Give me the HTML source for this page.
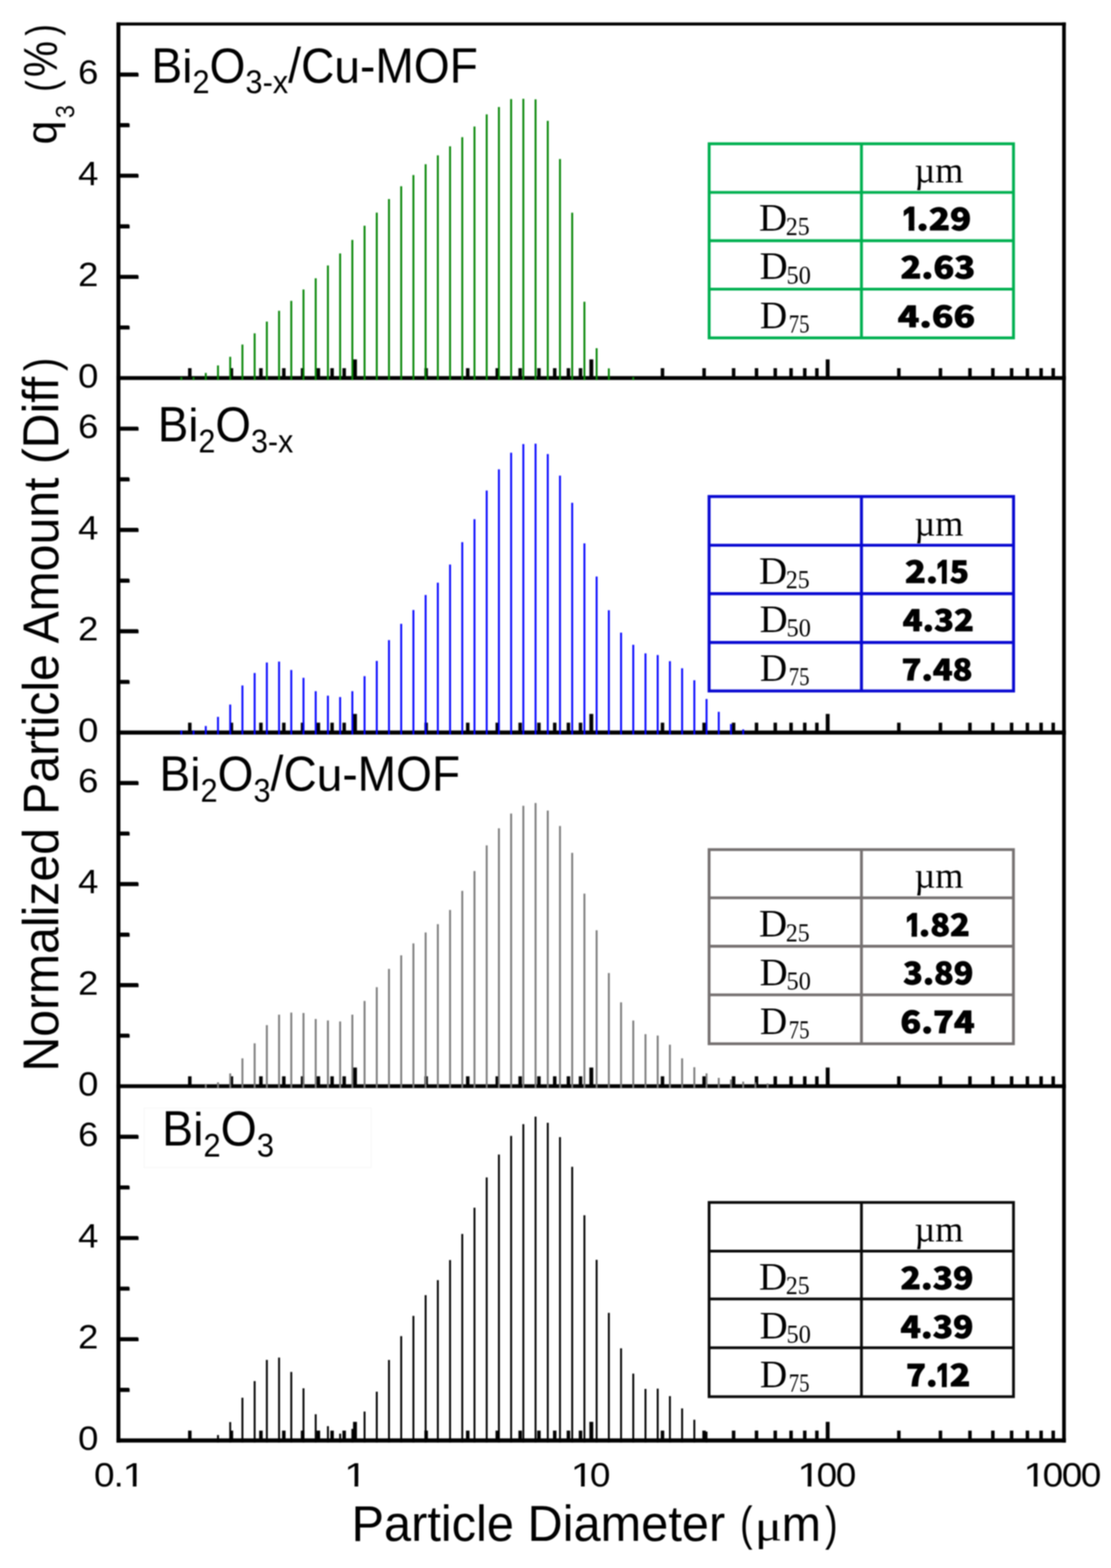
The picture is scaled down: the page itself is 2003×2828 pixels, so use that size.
<!DOCTYPE html>
<html lang="en"><head><meta charset="utf-8"><title>Particle size distribution</title>
<style>
html,body{margin:0;padding:0;background:#fff;}
body{width:2003px;height:2828px;overflow:hidden;}
svg{display:block;filter:blur(0.8px);}
text{font-family:"Liberation Sans",Arial,Helvetica,sans-serif;fill:#000;}
.ser{font-family:"Liberation Serif","Times New Roman",serif;}
.val{font-family:"Noto Sans CJK JP","Liberation Sans",sans-serif;font-weight:900;}
</style></head><body>
<svg width="2003" height="2828" viewBox="0 0 2003 2828">
<rect x="0" y="0" width="2003" height="2828" fill="#ffffff"/>
<defs><clipPath id="c1r" clipPathUnits="userSpaceOnUse"><path d="M-4,-64.00 H64.00 V-5.98 H21.75 V0 H16.09 V-5.98 H-4 Z"/></clipPath><clipPath id="c1b" clipPathUnits="userSpaceOnUse"><path d="M-4,-60.00 H60.00 V-8.82 H23.74 V0 H12.50 V-8.82 H-4 Z"/></clipPath></defs>
<g id="axes" stroke="#000" fill="none" stroke-linecap="butt">
<g fill="#000" stroke="none">
<rect x="209.95" y="40.55" width="7.10" height="2561.20"/>
<rect x="1914.95" y="40.55" width="6.60" height="2561.20"/>
<rect x="209.95" y="40.55" width="1711.60" height="5.50"/>
<rect x="209.95" y="678.30" width="1711.60" height="7.00"/>
<rect x="209.95" y="1317.50" width="1711.60" height="7.40"/>
<rect x="209.95" y="1955.55" width="1711.60" height="6.90"/>
<rect x="209.95" y="2594.25" width="1711.60" height="7.50"/>
</g>
<path d="M213.5 586.9 H232.1 l1.6 1.6 V594.3 H213.5 Z" fill="#000" stroke="none"/>
<path d="M213.5 495.7 H248.2 l1.6 1.6 V503.1 H213.5 Z" fill="#000" stroke="none"/>
<path d="M213.5 404.5 H232.1 l1.6 1.6 V411.9 H213.5 Z" fill="#000" stroke="none"/>
<path d="M213.5 313.2 H248.2 l1.6 1.6 V320.6 H213.5 Z" fill="#000" stroke="none"/>
<path d="M213.5 222.0 H232.1 l1.6 1.6 V229.4 H213.5 Z" fill="#000" stroke="none"/>
<path d="M213.5 130.8 H248.2 l1.6 1.6 V138.2 H213.5 Z" fill="#000" stroke="none"/>
<path d="M213.5 1226.2 H232.1 l1.6 1.6 V1233.6 H213.5 Z" fill="#000" stroke="none"/>
<path d="M213.5 1134.8 H248.2 l1.6 1.6 V1142.2 H213.5 Z" fill="#000" stroke="none"/>
<path d="M213.5 1043.5 H232.1 l1.6 1.6 V1050.9 H213.5 Z" fill="#000" stroke="none"/>
<path d="M213.5 952.1 H248.2 l1.6 1.6 V959.5 H213.5 Z" fill="#000" stroke="none"/>
<path d="M213.5 860.8 H232.1 l1.6 1.6 V868.2 H213.5 Z" fill="#000" stroke="none"/>
<path d="M213.5 769.4 H248.2 l1.6 1.6 V776.8 H213.5 Z" fill="#000" stroke="none"/>
<path d="M213.5 1864.2 H232.1 l1.6 1.6 V1871.6 H213.5 Z" fill="#000" stroke="none"/>
<path d="M213.5 1773.1 H248.2 l1.6 1.6 V1780.5 H213.5 Z" fill="#000" stroke="none"/>
<path d="M213.5 1682.0 H232.1 l1.6 1.6 V1689.4 H213.5 Z" fill="#000" stroke="none"/>
<path d="M213.5 1590.8 H248.2 l1.6 1.6 V1598.2 H213.5 Z" fill="#000" stroke="none"/>
<path d="M213.5 1499.7 H232.1 l1.6 1.6 V1507.1 H213.5 Z" fill="#000" stroke="none"/>
<path d="M213.5 1408.6 H248.2 l1.6 1.6 V1416.0 H213.5 Z" fill="#000" stroke="none"/>
<path d="M213.5 2503.0 H232.1 l1.6 1.6 V2510.4 H213.5 Z" fill="#000" stroke="none"/>
<path d="M213.5 2411.7 H248.2 l1.6 1.6 V2419.1 H213.5 Z" fill="#000" stroke="none"/>
<path d="M213.5 2320.4 H232.1 l1.6 1.6 V2327.8 H213.5 Z" fill="#000" stroke="none"/>
<path d="M213.5 2229.2 H248.2 l1.6 1.6 V2236.6 H213.5 Z" fill="#000" stroke="none"/>
<path d="M213.5 2137.9 H232.1 l1.6 1.6 V2145.3 H213.5 Z" fill="#000" stroke="none"/>
<path d="M213.5 2046.6 H248.2 l1.6 1.6 V2054.0 H213.5 Z" fill="#000" stroke="none"/>
<line x1="342.2" y1="681.8" x2="342.2" y2="664.0" stroke-width="6.3"/>
<line x1="417.2" y1="681.8" x2="417.2" y2="664.0" stroke-width="6.3"/>
<line x1="470.4" y1="681.8" x2="470.4" y2="664.0" stroke-width="6.3"/>
<line x1="511.7" y1="681.8" x2="511.7" y2="664.0" stroke-width="6.3"/>
<line x1="545.5" y1="681.8" x2="545.5" y2="664.0" stroke-width="6.3"/>
<line x1="574.0" y1="681.8" x2="574.0" y2="664.0" stroke-width="6.3"/>
<line x1="598.7" y1="681.8" x2="598.7" y2="664.0" stroke-width="6.3"/>
<line x1="620.5" y1="681.8" x2="620.5" y2="664.0" stroke-width="6.3"/>
<line x1="640.0" y1="681.8" x2="640.0" y2="648.2" stroke-width="7.0"/>
<line x1="768.3" y1="681.8" x2="768.3" y2="664.0" stroke-width="6.3"/>
<line x1="843.3" y1="681.8" x2="843.3" y2="664.0" stroke-width="6.3"/>
<line x1="896.5" y1="681.8" x2="896.5" y2="664.0" stroke-width="6.3"/>
<line x1="937.8" y1="681.8" x2="937.8" y2="664.0" stroke-width="6.3"/>
<line x1="971.6" y1="681.8" x2="971.6" y2="664.0" stroke-width="6.3"/>
<line x1="1000.1" y1="681.8" x2="1000.1" y2="664.0" stroke-width="6.3"/>
<line x1="1024.8" y1="681.8" x2="1024.8" y2="664.0" stroke-width="6.3"/>
<line x1="1046.6" y1="681.8" x2="1046.6" y2="664.0" stroke-width="6.3"/>
<line x1="1066.1" y1="681.8" x2="1066.1" y2="648.2" stroke-width="7.0"/>
<line x1="1194.4" y1="681.8" x2="1194.4" y2="664.0" stroke-width="6.3"/>
<line x1="1269.4" y1="681.8" x2="1269.4" y2="664.0" stroke-width="6.3"/>
<line x1="1322.6" y1="681.8" x2="1322.6" y2="664.0" stroke-width="6.3"/>
<line x1="1363.9" y1="681.8" x2="1363.9" y2="664.0" stroke-width="6.3"/>
<line x1="1397.7" y1="681.8" x2="1397.7" y2="664.0" stroke-width="6.3"/>
<line x1="1426.2" y1="681.8" x2="1426.2" y2="664.0" stroke-width="6.3"/>
<line x1="1450.9" y1="681.8" x2="1450.9" y2="664.0" stroke-width="6.3"/>
<line x1="1472.7" y1="681.8" x2="1472.7" y2="664.0" stroke-width="6.3"/>
<line x1="1492.2" y1="681.8" x2="1492.2" y2="648.2" stroke-width="7.0"/>
<line x1="1620.5" y1="681.8" x2="1620.5" y2="664.0" stroke-width="6.3"/>
<line x1="1695.5" y1="681.8" x2="1695.5" y2="664.0" stroke-width="6.3"/>
<line x1="1748.7" y1="681.8" x2="1748.7" y2="664.0" stroke-width="6.3"/>
<line x1="1790.0" y1="681.8" x2="1790.0" y2="664.0" stroke-width="6.3"/>
<line x1="1823.8" y1="681.8" x2="1823.8" y2="664.0" stroke-width="6.3"/>
<line x1="1852.3" y1="681.8" x2="1852.3" y2="664.0" stroke-width="6.3"/>
<line x1="1877.0" y1="681.8" x2="1877.0" y2="664.0" stroke-width="6.3"/>
<line x1="1898.8" y1="681.8" x2="1898.8" y2="664.0" stroke-width="6.3"/>
<line x1="342.2" y1="1321.2" x2="342.2" y2="1303.4" stroke-width="6.3"/>
<line x1="417.2" y1="1321.2" x2="417.2" y2="1303.4" stroke-width="6.3"/>
<line x1="470.4" y1="1321.2" x2="470.4" y2="1303.4" stroke-width="6.3"/>
<line x1="511.7" y1="1321.2" x2="511.7" y2="1303.4" stroke-width="6.3"/>
<line x1="545.5" y1="1321.2" x2="545.5" y2="1303.4" stroke-width="6.3"/>
<line x1="574.0" y1="1321.2" x2="574.0" y2="1303.4" stroke-width="6.3"/>
<line x1="598.7" y1="1321.2" x2="598.7" y2="1303.4" stroke-width="6.3"/>
<line x1="620.5" y1="1321.2" x2="620.5" y2="1303.4" stroke-width="6.3"/>
<line x1="640.0" y1="1321.2" x2="640.0" y2="1287.6" stroke-width="7.0"/>
<line x1="768.3" y1="1321.2" x2="768.3" y2="1303.4" stroke-width="6.3"/>
<line x1="843.3" y1="1321.2" x2="843.3" y2="1303.4" stroke-width="6.3"/>
<line x1="896.5" y1="1321.2" x2="896.5" y2="1303.4" stroke-width="6.3"/>
<line x1="937.8" y1="1321.2" x2="937.8" y2="1303.4" stroke-width="6.3"/>
<line x1="971.6" y1="1321.2" x2="971.6" y2="1303.4" stroke-width="6.3"/>
<line x1="1000.1" y1="1321.2" x2="1000.1" y2="1303.4" stroke-width="6.3"/>
<line x1="1024.8" y1="1321.2" x2="1024.8" y2="1303.4" stroke-width="6.3"/>
<line x1="1046.6" y1="1321.2" x2="1046.6" y2="1303.4" stroke-width="6.3"/>
<line x1="1066.1" y1="1321.2" x2="1066.1" y2="1287.6" stroke-width="7.0"/>
<line x1="1194.4" y1="1321.2" x2="1194.4" y2="1303.4" stroke-width="6.3"/>
<line x1="1269.4" y1="1321.2" x2="1269.4" y2="1303.4" stroke-width="6.3"/>
<line x1="1322.6" y1="1321.2" x2="1322.6" y2="1303.4" stroke-width="6.3"/>
<line x1="1363.9" y1="1321.2" x2="1363.9" y2="1303.4" stroke-width="6.3"/>
<line x1="1397.7" y1="1321.2" x2="1397.7" y2="1303.4" stroke-width="6.3"/>
<line x1="1426.2" y1="1321.2" x2="1426.2" y2="1303.4" stroke-width="6.3"/>
<line x1="1450.9" y1="1321.2" x2="1450.9" y2="1303.4" stroke-width="6.3"/>
<line x1="1472.7" y1="1321.2" x2="1472.7" y2="1303.4" stroke-width="6.3"/>
<line x1="1492.2" y1="1321.2" x2="1492.2" y2="1287.6" stroke-width="7.0"/>
<line x1="1620.5" y1="1321.2" x2="1620.5" y2="1303.4" stroke-width="6.3"/>
<line x1="1695.5" y1="1321.2" x2="1695.5" y2="1303.4" stroke-width="6.3"/>
<line x1="1748.7" y1="1321.2" x2="1748.7" y2="1303.4" stroke-width="6.3"/>
<line x1="1790.0" y1="1321.2" x2="1790.0" y2="1303.4" stroke-width="6.3"/>
<line x1="1823.8" y1="1321.2" x2="1823.8" y2="1303.4" stroke-width="6.3"/>
<line x1="1852.3" y1="1321.2" x2="1852.3" y2="1303.4" stroke-width="6.3"/>
<line x1="1877.0" y1="1321.2" x2="1877.0" y2="1303.4" stroke-width="6.3"/>
<line x1="1898.8" y1="1321.2" x2="1898.8" y2="1303.4" stroke-width="6.3"/>
<line x1="342.2" y1="1959.0" x2="342.2" y2="1941.2" stroke-width="6.3"/>
<line x1="417.2" y1="1959.0" x2="417.2" y2="1941.2" stroke-width="6.3"/>
<line x1="470.4" y1="1959.0" x2="470.4" y2="1941.2" stroke-width="6.3"/>
<line x1="511.7" y1="1959.0" x2="511.7" y2="1941.2" stroke-width="6.3"/>
<line x1="545.5" y1="1959.0" x2="545.5" y2="1941.2" stroke-width="6.3"/>
<line x1="574.0" y1="1959.0" x2="574.0" y2="1941.2" stroke-width="6.3"/>
<line x1="598.7" y1="1959.0" x2="598.7" y2="1941.2" stroke-width="6.3"/>
<line x1="620.5" y1="1959.0" x2="620.5" y2="1941.2" stroke-width="6.3"/>
<line x1="640.0" y1="1959.0" x2="640.0" y2="1925.4" stroke-width="7.0"/>
<line x1="768.3" y1="1959.0" x2="768.3" y2="1941.2" stroke-width="6.3"/>
<line x1="843.3" y1="1959.0" x2="843.3" y2="1941.2" stroke-width="6.3"/>
<line x1="896.5" y1="1959.0" x2="896.5" y2="1941.2" stroke-width="6.3"/>
<line x1="937.8" y1="1959.0" x2="937.8" y2="1941.2" stroke-width="6.3"/>
<line x1="971.6" y1="1959.0" x2="971.6" y2="1941.2" stroke-width="6.3"/>
<line x1="1000.1" y1="1959.0" x2="1000.1" y2="1941.2" stroke-width="6.3"/>
<line x1="1024.8" y1="1959.0" x2="1024.8" y2="1941.2" stroke-width="6.3"/>
<line x1="1046.6" y1="1959.0" x2="1046.6" y2="1941.2" stroke-width="6.3"/>
<line x1="1066.1" y1="1959.0" x2="1066.1" y2="1925.4" stroke-width="7.0"/>
<line x1="1194.4" y1="1959.0" x2="1194.4" y2="1941.2" stroke-width="6.3"/>
<line x1="1269.4" y1="1959.0" x2="1269.4" y2="1941.2" stroke-width="6.3"/>
<line x1="1322.6" y1="1959.0" x2="1322.6" y2="1941.2" stroke-width="6.3"/>
<line x1="1363.9" y1="1959.0" x2="1363.9" y2="1941.2" stroke-width="6.3"/>
<line x1="1397.7" y1="1959.0" x2="1397.7" y2="1941.2" stroke-width="6.3"/>
<line x1="1426.2" y1="1959.0" x2="1426.2" y2="1941.2" stroke-width="6.3"/>
<line x1="1450.9" y1="1959.0" x2="1450.9" y2="1941.2" stroke-width="6.3"/>
<line x1="1472.7" y1="1959.0" x2="1472.7" y2="1941.2" stroke-width="6.3"/>
<line x1="1492.2" y1="1959.0" x2="1492.2" y2="1925.4" stroke-width="7.0"/>
<line x1="1620.5" y1="1959.0" x2="1620.5" y2="1941.2" stroke-width="6.3"/>
<line x1="1695.5" y1="1959.0" x2="1695.5" y2="1941.2" stroke-width="6.3"/>
<line x1="1748.7" y1="1959.0" x2="1748.7" y2="1941.2" stroke-width="6.3"/>
<line x1="1790.0" y1="1959.0" x2="1790.0" y2="1941.2" stroke-width="6.3"/>
<line x1="1823.8" y1="1959.0" x2="1823.8" y2="1941.2" stroke-width="6.3"/>
<line x1="1852.3" y1="1959.0" x2="1852.3" y2="1941.2" stroke-width="6.3"/>
<line x1="1877.0" y1="1959.0" x2="1877.0" y2="1941.2" stroke-width="6.3"/>
<line x1="1898.8" y1="1959.0" x2="1898.8" y2="1941.2" stroke-width="6.3"/>
<line x1="342.2" y1="2598.0" x2="342.2" y2="2580.2" stroke-width="6.3"/>
<line x1="417.2" y1="2598.0" x2="417.2" y2="2580.2" stroke-width="6.3"/>
<line x1="470.4" y1="2598.0" x2="470.4" y2="2580.2" stroke-width="6.3"/>
<line x1="511.7" y1="2598.0" x2="511.7" y2="2580.2" stroke-width="6.3"/>
<line x1="545.5" y1="2598.0" x2="545.5" y2="2580.2" stroke-width="6.3"/>
<line x1="574.0" y1="2598.0" x2="574.0" y2="2580.2" stroke-width="6.3"/>
<line x1="598.7" y1="2598.0" x2="598.7" y2="2580.2" stroke-width="6.3"/>
<line x1="620.5" y1="2598.0" x2="620.5" y2="2580.2" stroke-width="6.3"/>
<line x1="640.0" y1="2598.0" x2="640.0" y2="2564.4" stroke-width="7.0"/>
<line x1="768.3" y1="2598.0" x2="768.3" y2="2580.2" stroke-width="6.3"/>
<line x1="843.3" y1="2598.0" x2="843.3" y2="2580.2" stroke-width="6.3"/>
<line x1="896.5" y1="2598.0" x2="896.5" y2="2580.2" stroke-width="6.3"/>
<line x1="937.8" y1="2598.0" x2="937.8" y2="2580.2" stroke-width="6.3"/>
<line x1="971.6" y1="2598.0" x2="971.6" y2="2580.2" stroke-width="6.3"/>
<line x1="1000.1" y1="2598.0" x2="1000.1" y2="2580.2" stroke-width="6.3"/>
<line x1="1024.8" y1="2598.0" x2="1024.8" y2="2580.2" stroke-width="6.3"/>
<line x1="1046.6" y1="2598.0" x2="1046.6" y2="2580.2" stroke-width="6.3"/>
<line x1="1066.1" y1="2598.0" x2="1066.1" y2="2564.4" stroke-width="7.0"/>
<line x1="1194.4" y1="2598.0" x2="1194.4" y2="2580.2" stroke-width="6.3"/>
<line x1="1269.4" y1="2598.0" x2="1269.4" y2="2580.2" stroke-width="6.3"/>
<line x1="1322.6" y1="2598.0" x2="1322.6" y2="2580.2" stroke-width="6.3"/>
<line x1="1363.9" y1="2598.0" x2="1363.9" y2="2580.2" stroke-width="6.3"/>
<line x1="1397.7" y1="2598.0" x2="1397.7" y2="2580.2" stroke-width="6.3"/>
<line x1="1426.2" y1="2598.0" x2="1426.2" y2="2580.2" stroke-width="6.3"/>
<line x1="1450.9" y1="2598.0" x2="1450.9" y2="2580.2" stroke-width="6.3"/>
<line x1="1472.7" y1="2598.0" x2="1472.7" y2="2580.2" stroke-width="6.3"/>
<line x1="1492.2" y1="2598.0" x2="1492.2" y2="2564.4" stroke-width="7.0"/>
<line x1="1620.5" y1="2598.0" x2="1620.5" y2="2580.2" stroke-width="6.3"/>
<line x1="1695.5" y1="2598.0" x2="1695.5" y2="2580.2" stroke-width="6.3"/>
<line x1="1748.7" y1="2598.0" x2="1748.7" y2="2580.2" stroke-width="6.3"/>
<line x1="1790.0" y1="2598.0" x2="1790.0" y2="2580.2" stroke-width="6.3"/>
<line x1="1823.8" y1="2598.0" x2="1823.8" y2="2580.2" stroke-width="6.3"/>
<line x1="1852.3" y1="2598.0" x2="1852.3" y2="2580.2" stroke-width="6.3"/>
<line x1="1877.0" y1="2598.0" x2="1877.0" y2="2580.2" stroke-width="6.3"/>
<line x1="1898.8" y1="2598.0" x2="1898.8" y2="2580.2" stroke-width="6.3"/>
</g>
<g id="bars1" fill="#048504">
<rect x="325.26" y="680.0" width="3.4" height="5.3"/>
<rect x="347.28" y="680.0" width="3.4" height="5.3"/>
<rect x="369.30" y="672.6" width="3.4" height="12.7"/>
<rect x="391.32" y="659.1" width="3.4" height="26.2"/>
<rect x="413.34" y="643.5" width="3.4" height="41.8"/>
<rect x="435.36" y="621.4" width="3.4" height="63.9"/>
<rect x="457.38" y="601.2" width="3.4" height="84.1"/>
<rect x="479.40" y="580.0" width="3.4" height="105.3"/>
<rect x="501.42" y="560.5" width="3.4" height="124.8"/>
<rect x="523.44" y="542.6" width="3.4" height="142.7"/>
<rect x="545.46" y="522.1" width="3.4" height="163.2"/>
<rect x="567.48" y="501.9" width="3.4" height="183.4"/>
<rect x="589.50" y="478.8" width="3.4" height="206.5"/>
<rect x="611.52" y="457.1" width="3.4" height="228.2"/>
<rect x="633.54" y="432.7" width="3.4" height="252.6"/>
<rect x="655.56" y="407.1" width="3.4" height="278.2"/>
<rect x="677.58" y="383.5" width="3.4" height="301.8"/>
<rect x="699.60" y="359.0" width="3.4" height="326.3"/>
<rect x="721.62" y="335.9" width="3.4" height="349.4"/>
<rect x="743.64" y="315.7" width="3.4" height="369.6"/>
<rect x="765.66" y="296.2" width="3.4" height="389.1"/>
<rect x="787.68" y="280.2" width="3.4" height="405.1"/>
<rect x="809.70" y="263.9" width="3.4" height="421.4"/>
<rect x="831.72" y="247.4" width="3.4" height="437.9"/>
<rect x="853.74" y="228.2" width="3.4" height="457.1"/>
<rect x="875.76" y="206.3" width="3.4" height="479.0"/>
<rect x="897.78" y="193.0" width="3.4" height="492.3"/>
<rect x="919.80" y="178.7" width="3.4" height="506.6"/>
<rect x="941.82" y="178.2" width="3.4" height="507.1"/>
<rect x="963.84" y="179.2" width="3.4" height="506.1"/>
<rect x="985.86" y="217.9" width="3.4" height="467.4"/>
<rect x="1007.88" y="286.8" width="3.4" height="398.5"/>
<rect x="1029.90" y="383.6" width="3.4" height="301.7"/>
<rect x="1051.92" y="544.2" width="3.4" height="141.1"/>
<rect x="1073.94" y="628.0" width="3.4" height="57.3"/>
<rect x="1095.96" y="664.4" width="3.4" height="20.9"/>
<rect x="1140.00" y="680.0" width="3.4" height="5.3"/>
</g>
<g id="bars2" fill="#0404ff">
<rect x="325.26" y="1317.5" width="3.4" height="7.2"/>
<rect x="347.28" y="1317.5" width="3.4" height="7.2"/>
<rect x="369.30" y="1309.4" width="3.4" height="15.3"/>
<rect x="391.32" y="1292.9" width="3.4" height="31.8"/>
<rect x="413.34" y="1270.7" width="3.4" height="54.0"/>
<rect x="435.36" y="1236.3" width="3.4" height="88.4"/>
<rect x="457.38" y="1213.8" width="3.4" height="110.9"/>
<rect x="479.40" y="1194.9" width="3.4" height="129.8"/>
<rect x="501.42" y="1193.2" width="3.4" height="131.5"/>
<rect x="523.44" y="1208.4" width="3.4" height="116.3"/>
<rect x="545.46" y="1222.5" width="3.4" height="102.2"/>
<rect x="567.48" y="1246.6" width="3.4" height="78.1"/>
<rect x="589.50" y="1254.7" width="3.4" height="70.0"/>
<rect x="611.52" y="1257.2" width="3.4" height="67.5"/>
<rect x="633.54" y="1246.6" width="3.4" height="78.1"/>
<rect x="655.56" y="1219.5" width="3.4" height="105.2"/>
<rect x="677.58" y="1192.0" width="3.4" height="132.7"/>
<rect x="699.60" y="1154.5" width="3.4" height="170.2"/>
<rect x="721.62" y="1125.1" width="3.4" height="199.6"/>
<rect x="743.64" y="1100.2" width="3.4" height="224.5"/>
<rect x="765.66" y="1073.1" width="3.4" height="251.6"/>
<rect x="787.68" y="1050.9" width="3.4" height="273.8"/>
<rect x="809.70" y="1018.2" width="3.4" height="306.5"/>
<rect x="831.72" y="977.8" width="3.4" height="346.9"/>
<rect x="853.74" y="936.4" width="3.4" height="388.3"/>
<rect x="875.76" y="884.7" width="3.4" height="440.0"/>
<rect x="897.78" y="846.5" width="3.4" height="478.2"/>
<rect x="919.80" y="816.5" width="3.4" height="508.2"/>
<rect x="941.82" y="800.9" width="3.4" height="523.8"/>
<rect x="963.84" y="800.2" width="3.4" height="524.5"/>
<rect x="985.86" y="818.9" width="3.4" height="505.8"/>
<rect x="1007.88" y="857.8" width="3.4" height="466.9"/>
<rect x="1029.90" y="906.8" width="3.4" height="417.9"/>
<rect x="1051.92" y="980.0" width="3.4" height="344.7"/>
<rect x="1073.94" y="1039.8" width="3.4" height="284.9"/>
<rect x="1095.96" y="1100.6" width="3.4" height="224.1"/>
<rect x="1117.98" y="1141.0" width="3.4" height="183.7"/>
<rect x="1140.00" y="1162.9" width="3.4" height="161.8"/>
<rect x="1162.02" y="1178.4" width="3.4" height="146.3"/>
<rect x="1184.04" y="1181.4" width="3.4" height="143.3"/>
<rect x="1206.06" y="1192.5" width="3.4" height="132.2"/>
<rect x="1228.08" y="1205.3" width="3.4" height="119.4"/>
<rect x="1250.10" y="1226.9" width="3.4" height="97.8"/>
<rect x="1272.12" y="1260.7" width="3.4" height="64.0"/>
<rect x="1294.14" y="1283.8" width="3.4" height="40.9"/>
<rect x="1316.16" y="1305.8" width="3.4" height="18.9"/>
<rect x="1338.18" y="1315.6" width="3.4" height="9.1"/>
</g>
<g id="bars3" fill="#7b7b7b">
<rect x="369.30" y="1955.6" width="3.4" height="6.9"/>
<rect x="391.32" y="1952.0" width="3.4" height="10.5"/>
<rect x="413.34" y="1936.0" width="3.4" height="26.5"/>
<rect x="435.36" y="1908.8" width="3.4" height="53.7"/>
<rect x="457.38" y="1881.7" width="3.4" height="80.8"/>
<rect x="479.40" y="1848.9" width="3.4" height="113.6"/>
<rect x="501.42" y="1830.0" width="3.4" height="132.5"/>
<rect x="523.44" y="1826.3" width="3.4" height="136.2"/>
<rect x="545.46" y="1827.0" width="3.4" height="135.5"/>
<rect x="567.48" y="1837.8" width="3.4" height="124.7"/>
<rect x="589.50" y="1840.5" width="3.4" height="122.0"/>
<rect x="611.52" y="1842.3" width="3.4" height="120.2"/>
<rect x="633.54" y="1830.0" width="3.4" height="132.5"/>
<rect x="655.56" y="1805.3" width="3.4" height="157.2"/>
<rect x="677.58" y="1780.5" width="3.4" height="182.0"/>
<rect x="699.60" y="1747.5" width="3.4" height="215.0"/>
<rect x="721.62" y="1723.0" width="3.4" height="239.5"/>
<rect x="743.64" y="1701.5" width="3.4" height="261.0"/>
<rect x="765.66" y="1681.8" width="3.4" height="280.7"/>
<rect x="787.68" y="1666.8" width="3.4" height="295.7"/>
<rect x="809.70" y="1641.2" width="3.4" height="321.3"/>
<rect x="831.72" y="1606.7" width="3.4" height="355.8"/>
<rect x="853.74" y="1571.0" width="3.4" height="391.5"/>
<rect x="875.76" y="1524.7" width="3.4" height="437.8"/>
<rect x="897.78" y="1493.9" width="3.4" height="468.6"/>
<rect x="919.80" y="1467.3" width="3.4" height="495.2"/>
<rect x="941.82" y="1453.3" width="3.4" height="509.2"/>
<rect x="963.84" y="1448.3" width="3.4" height="514.2"/>
<rect x="985.86" y="1461.9" width="3.4" height="500.6"/>
<rect x="1007.88" y="1489.7" width="3.4" height="472.8"/>
<rect x="1029.90" y="1538.2" width="3.4" height="424.3"/>
<rect x="1051.92" y="1611.7" width="3.4" height="350.8"/>
<rect x="1073.94" y="1677.8" width="3.4" height="284.7"/>
<rect x="1095.96" y="1754.9" width="3.4" height="207.6"/>
<rect x="1117.98" y="1807.8" width="3.4" height="154.7"/>
<rect x="1140.00" y="1840.6" width="3.4" height="121.9"/>
<rect x="1162.02" y="1865.2" width="3.4" height="97.3"/>
<rect x="1184.04" y="1867.7" width="3.4" height="94.8"/>
<rect x="1206.06" y="1884.2" width="3.4" height="78.3"/>
<rect x="1228.08" y="1908.8" width="3.4" height="53.7"/>
<rect x="1250.10" y="1924.8" width="3.4" height="37.7"/>
<rect x="1272.12" y="1935.9" width="3.4" height="26.6"/>
<rect x="1294.14" y="1944.0" width="3.4" height="18.5"/>
<rect x="1316.16" y="1947.0" width="3.4" height="15.5"/>
<rect x="1338.18" y="1950.7" width="3.4" height="11.8"/>
<rect x="1360.20" y="1952.0" width="3.4" height="10.5"/>
<rect x="1382.22" y="1954.0" width="3.4" height="8.5"/>
</g>
<g id="bars4" fill="#000000">
<rect x="391.32" y="2588.2" width="3.4" height="13.3"/>
<rect x="413.34" y="2564.8" width="3.4" height="36.7"/>
<rect x="435.36" y="2520.9" width="3.4" height="80.6"/>
<rect x="457.38" y="2490.9" width="3.4" height="110.6"/>
<rect x="479.40" y="2452.7" width="3.4" height="148.8"/>
<rect x="501.42" y="2448.5" width="3.4" height="153.0"/>
<rect x="523.44" y="2474.4" width="3.4" height="127.1"/>
<rect x="545.46" y="2503.9" width="3.4" height="97.6"/>
<rect x="567.48" y="2550.7" width="3.4" height="50.8"/>
<rect x="589.50" y="2572.2" width="3.4" height="29.3"/>
<rect x="611.52" y="2585.7" width="3.4" height="15.8"/>
<rect x="633.54" y="2577.1" width="3.4" height="24.4"/>
<rect x="655.56" y="2545.8" width="3.4" height="55.7"/>
<rect x="677.58" y="2510.0" width="3.4" height="91.5"/>
<rect x="699.60" y="2452.8" width="3.4" height="148.7"/>
<rect x="721.62" y="2409.8" width="3.4" height="191.7"/>
<rect x="743.64" y="2373.3" width="3.4" height="228.2"/>
<rect x="765.66" y="2335.9" width="3.4" height="265.6"/>
<rect x="787.68" y="2308.8" width="3.4" height="292.7"/>
<rect x="809.70" y="2272.6" width="3.4" height="328.9"/>
<rect x="831.72" y="2225.5" width="3.4" height="376.0"/>
<rect x="853.74" y="2178.2" width="3.4" height="423.3"/>
<rect x="875.76" y="2123.6" width="3.4" height="477.9"/>
<rect x="897.78" y="2082.3" width="3.4" height="519.2"/>
<rect x="919.80" y="2048.7" width="3.4" height="552.8"/>
<rect x="941.82" y="2027.5" width="3.4" height="574.0"/>
<rect x="963.84" y="2013.9" width="3.4" height="587.6"/>
<rect x="985.86" y="2025.0" width="3.4" height="576.5"/>
<rect x="1007.88" y="2050.9" width="3.4" height="550.6"/>
<rect x="1029.90" y="2104.4" width="3.4" height="497.1"/>
<rect x="1051.92" y="2191.8" width="3.4" height="409.7"/>
<rect x="1073.94" y="2272.2" width="3.4" height="329.3"/>
<rect x="1095.96" y="2367.8" width="3.4" height="233.7"/>
<rect x="1117.98" y="2431.8" width="3.4" height="169.7"/>
<rect x="1140.00" y="2477.4" width="3.4" height="124.1"/>
<rect x="1162.02" y="2505.0" width="3.4" height="96.5"/>
<rect x="1184.04" y="2504.5" width="3.4" height="97.0"/>
<rect x="1206.06" y="2518.0" width="3.4" height="83.5"/>
<rect x="1228.08" y="2540.2" width="3.4" height="61.3"/>
<rect x="1250.10" y="2560.6" width="3.4" height="40.9"/>
<rect x="1272.12" y="2582.0" width="3.4" height="19.5"/>
</g>
<g id="table1">
<g stroke="#00b050" stroke-width="5.2" fill="none">
<rect x="1278.5" y="259.3" width="548.7" height="350.1" fill="#fff"/>
<line x1="1553.1" y1="259.3" x2="1553.1" y2="609.4"/>
<line x1="1278.5" y1="347.0" x2="1827.2" y2="347.0"/>
<line x1="1278.5" y1="434.2" x2="1827.2" y2="434.2"/>
<line x1="1278.5" y1="521.5" x2="1827.2" y2="521.5"/>
</g>
<text class="ser" transform="translate(1648.73 329.22) scale(0.9847 0.9844)" font-size="66">µm</text>
<text class="ser" transform="translate(1368.28 416.10) scale(1.0087 1.0043)" font-size="70">D</text>
<text class="ser" transform="translate(1416.63 424.30) scale(0.9349 1.0194)" font-size="46">25</text>
<g transform="translate(1626.95 416.30) scale(0.9037 1.0239)"><text clip-path="url(#c1b)" font-size="60" font-weight="bold" stroke="#000" stroke-width="3" stroke-linejoin="miter">1</text></g>
<text class="val" transform="translate(1652.34 414.73) scale(1.0494 0.9241)" font-size="60" stroke="#000" stroke-width="1.4" stroke-linejoin="round">.29</text>
<text class="ser" transform="translate(1369.50 503.40) scale(1.0022 1.0043)" font-size="70">D</text>
<text class="ser" transform="translate(1417.99 511.60) scale(0.9535 1.0194)" font-size="46">50</text>
<text class="val" transform="translate(1623.39 502.05) scale(1.0324 0.9135)" font-size="60" stroke="#000" stroke-width="1.4" stroke-linejoin="round">2.63</text>
<text class="ser" transform="translate(1370.05 591.50) scale(0.9739 1.0043)" font-size="70">D</text>
<text class="ser" transform="translate(1422.06 599.70) scale(0.8143 1.0194)" font-size="46">75</text>
<text class="val" transform="translate(1618.58 590.18) scale(1.0676 0.8924)" font-size="60" stroke="#000" stroke-width="1.4" stroke-linejoin="round">4.66</text>
</g>
<g id="table2">
<g stroke="#0a0ad2" stroke-width="5.4" fill="none">
<rect x="1278.4" y="895.5" width="548.9" height="350.7" fill="#fff"/>
<line x1="1553.1" y1="895.5" x2="1553.1" y2="1246.2"/>
<line x1="1278.4" y1="983.4" x2="1827.3" y2="983.4"/>
<line x1="1278.4" y1="1070.7" x2="1827.3" y2="1070.7"/>
<line x1="1278.4" y1="1158.7" x2="1827.3" y2="1158.7"/>
</g>
<text class="ser" transform="translate(1648.73 965.62) scale(0.9847 0.9844)" font-size="66">µm</text>
<text class="ser" transform="translate(1368.28 1052.50) scale(1.0087 1.0043)" font-size="70">D</text>
<text class="ser" transform="translate(1416.63 1060.70) scale(0.9349 1.0194)" font-size="46">25</text>
<text class="val" transform="translate(1631.39 1051.16) scale(1.0363 0.9072)" font-size="60" stroke="#000" stroke-width="1.4" stroke-linejoin="round">2.</text>
<g transform="translate(1688.16 1052.70) scale(0.7854 1.0052)"><text clip-path="url(#c1b)" font-size="60" font-weight="bold" stroke="#000" stroke-width="3" stroke-linejoin="miter">1</text></g>
<text class="val" transform="translate(1712.32 1051.16) scale(0.9477 0.9072)" font-size="60" stroke="#000" stroke-width="1.4" stroke-linejoin="round">5</text>
<text class="ser" transform="translate(1369.50 1139.80) scale(1.0022 1.0043)" font-size="70">D</text>
<text class="ser" transform="translate(1417.99 1148.00) scale(0.9535 1.0194)" font-size="46">50</text>
<text class="val" transform="translate(1627.41 1138.46) scale(0.9826 0.9072)" font-size="60" stroke="#000" stroke-width="1.4" stroke-linejoin="round">4.32</text>
<text class="ser" transform="translate(1370.05 1227.90) scale(0.9739 1.0043)" font-size="70">D</text>
<text class="ser" transform="translate(1422.06 1236.10) scale(0.8143 1.0194)" font-size="46">75</text>
<text class="val" transform="translate(1625.45 1226.58) scale(0.9791 0.8924)" font-size="60" stroke="#000" stroke-width="1.4" stroke-linejoin="round">7.48</text>
</g>
<g id="table3">
<g stroke="#767171" stroke-width="5.1" fill="none">
<rect x="1278.4" y="1532.3" width="548.7" height="350.2" fill="#fff"/>
<line x1="1553.1" y1="1532.3" x2="1553.1" y2="1882.5"/>
<line x1="1278.4" y1="1619.2" x2="1827.1" y2="1619.2"/>
<line x1="1278.4" y1="1706.6" x2="1827.1" y2="1706.6"/>
<line x1="1278.4" y1="1794.2" x2="1827.1" y2="1794.2"/>
</g>
<text class="ser" transform="translate(1648.73 1601.42) scale(0.9847 0.9844)" font-size="66">µm</text>
<text class="ser" transform="translate(1368.28 1689.30) scale(1.0087 1.0043)" font-size="70">D</text>
<text class="ser" transform="translate(1416.63 1697.50) scale(0.9349 1.0194)" font-size="46">25</text>
<g transform="translate(1632.65 1689.50) scale(0.8659 1.0052)"><text clip-path="url(#c1b)" font-size="60" font-weight="bold" stroke="#000" stroke-width="3" stroke-linejoin="miter">1</text></g>
<text class="val" transform="translate(1656.57 1687.96) scale(0.9775 0.9072)" font-size="60" stroke="#000" stroke-width="1.4" stroke-linejoin="round">.82</text>
<text class="ser" transform="translate(1369.50 1776.60) scale(1.0022 1.0043)" font-size="70">D</text>
<text class="ser" transform="translate(1417.99 1784.80) scale(0.9535 1.0194)" font-size="46">50</text>
<text class="val" transform="translate(1628.21 1775.26) scale(0.9701 0.9072)" font-size="60" stroke="#000" stroke-width="1.4" stroke-linejoin="round">3.89</text>
<text class="ser" transform="translate(1370.05 1864.70) scale(0.9739 1.0043)" font-size="70">D</text>
<text class="ser" transform="translate(1422.06 1872.90) scale(0.8143 1.0194)" font-size="46">75</text>
<text class="val" transform="translate(1623.17 1863.33) scale(1.0261 0.9262)" font-size="60" stroke="#000" stroke-width="1.4" stroke-linejoin="round">6.74</text>
</g>
<g id="table4">
<g stroke="#0a0a0a" stroke-width="5.0" fill="none">
<rect x="1278.4" y="2168.7" width="548.8" height="350.3" fill="#fff"/>
<line x1="1553.1" y1="2168.7" x2="1553.1" y2="2519.0"/>
<line x1="1278.4" y1="2256.4" x2="1827.2" y2="2256.4"/>
<line x1="1278.4" y1="2342.7" x2="1827.2" y2="2342.7"/>
<line x1="1278.4" y1="2430.8" x2="1827.2" y2="2430.8"/>
</g>
<text class="ser" transform="translate(1648.73 2238.62) scale(0.9847 0.9844)" font-size="66">µm</text>
<text class="ser" transform="translate(1368.28 2326.10) scale(1.0087 1.0043)" font-size="70">D</text>
<text class="ser" transform="translate(1416.63 2334.30) scale(0.9349 1.0194)" font-size="46">25</text>
<text class="val" transform="translate(1623.40 2324.76) scale(1.0075 0.9072)" font-size="60" stroke="#000" stroke-width="1.4" stroke-linejoin="round">2.39</text>
<text class="ser" transform="translate(1369.50 2414.20) scale(1.0022 1.0043)" font-size="70">D</text>
<text class="ser" transform="translate(1417.99 2422.40) scale(0.9535 1.0194)" font-size="46">50</text>
<text class="val" transform="translate(1623.40 2412.86) scale(1.0075 0.9072)" font-size="60" stroke="#000" stroke-width="1.4" stroke-linejoin="round">4.39</text>
<text class="ser" transform="translate(1370.05 2501.50) scale(0.9739 1.0043)" font-size="70">D</text>
<text class="ser" transform="translate(1422.06 2509.70) scale(0.8143 1.0194)" font-size="46">75</text>
<text class="val" transform="translate(1633.44 2500.15) scale(0.9838 0.9093)" font-size="60" stroke="#000" stroke-width="1.4" stroke-linejoin="round">7.</text>
<g transform="translate(1688.16 2501.70) scale(0.7854 1.0075)"><text clip-path="url(#c1b)" font-size="60" font-weight="bold" stroke="#000" stroke-width="3" stroke-linejoin="miter">1</text></g>
<text class="val" transform="translate(1712.29 2500.15) scale(1.0174 0.9093)" font-size="60" stroke="#000" stroke-width="1.4" stroke-linejoin="round">2</text>
</g>
<rect x="260.0" y="1998.5" width="409.0" height="107.0" fill="none" stroke="#f8f8f8" stroke-width="2"/>
<g id="titles">
<g transform="translate(273.06 148.50) scale(0.9903 1.0550)"><text x="0.00" y="0" font-size="84.0">B</text><text transform="translate(56.03 0) scale(1 0.9479)" font-size="84.0">i</text><text x="74.69" y="18.60" font-size="56.0">2</text><text x="105.83" y="0" font-size="84.0">O</text><text x="171.17" y="18.60" font-size="56.0">3-x</text><text x="248.96" y="0" font-size="84.0">/C</text><text transform="translate(332.96 0) scale(1 0.9479)" font-size="84.0">u</text><text x="379.68" y="0" font-size="84.0">-MOF</text></g>
<g transform="translate(284.41 796.00) scale(0.9816 1.0550)"><text x="0.00" y="0" font-size="84.0">B</text><text transform="translate(56.03 0) scale(1 0.9479)" font-size="84.0">i</text><text x="74.69" y="18.60" font-size="56.0">2</text><text x="105.83" y="0" font-size="84.0">O</text><text x="171.17" y="18.60" font-size="56.0">3-x</text></g>
<g transform="translate(287.56 1426.40) scale(0.9898 1.0550)"><text x="0.00" y="0" font-size="84.0">B</text><text transform="translate(56.03 0) scale(1 0.9479)" font-size="84.0">i</text><text x="74.69" y="18.60" font-size="56.0">2</text><text x="105.83" y="0" font-size="84.0">O</text><text x="171.17" y="18.60" font-size="56.0">3</text><text x="202.32" y="0" font-size="84.0">/C</text><text transform="translate(286.32 0) scale(1 0.9479)" font-size="84.0">u</text><text x="333.03" y="0" font-size="84.0">-MOF</text></g>
<g transform="translate(292.31 2066.40) scale(0.9976 1.0550)"><text x="0.00" y="0" font-size="84.0">B</text><text transform="translate(56.03 0) scale(1 0.9479)" font-size="84.0">i</text><text x="74.69" y="18.60" font-size="56.0">2</text><text x="105.83" y="0" font-size="84.0">O</text><text x="171.17" y="18.60" font-size="56.0">3</text></g>
</g>
<g id="ylabels" font-size="64" text-anchor="end">
<text transform="translate(177.4 698.7) scale(1.03 0.965)">0</text>
<text transform="translate(177.4 516.3) scale(1.03 0.965)">2</text>
<text transform="translate(177.4 333.8) scale(1.03 0.965)">4</text>
<text transform="translate(177.4 151.4) scale(1.03 0.965)">6</text>
<text transform="translate(177.4 1338.1) scale(1.03 0.965)">0</text>
<text transform="translate(177.4 1155.4) scale(1.03 0.965)">2</text>
<text transform="translate(177.4 972.7) scale(1.03 0.965)">4</text>
<text transform="translate(177.4 790.0) scale(1.03 0.965)">6</text>
<text transform="translate(177.4 1975.9) scale(1.03 0.965)">0</text>
<text transform="translate(177.4 1793.7) scale(1.03 0.965)">2</text>
<text transform="translate(177.4 1611.4) scale(1.03 0.965)">4</text>
<text transform="translate(177.4 1429.2) scale(1.03 0.965)">6</text>
<text transform="translate(177.4 2614.9) scale(1.03 0.965)">0</text>
<text transform="translate(177.4 2432.3) scale(1.03 0.965)">2</text>
<text transform="translate(177.4 2249.8) scale(1.03 0.965)">4</text>
<text transform="translate(177.4 2067.2) scale(1.03 0.965)">6</text>
</g>
<g id="xlabels" font-size="64">
<text transform="translate(169.59 2681.2) scale(1.04 0.965)">0</text>
<text transform="translate(204.65 2681.2) scale(1.04 0.965)">.</text>
<g transform="translate(220.71 2681.20) scale(1.1671 0.9593)"><text clip-path="url(#c1r)" font-size="64">1</text></g>
<g transform="translate(620.41 2681.20) scale(1.1671 0.9593)"><text clip-path="url(#c1r)" font-size="64">1</text></g>
<g transform="translate(1028.71 2681.20) scale(1.1671 0.9593)"><text clip-path="url(#c1r)" font-size="64">1</text></g>
<text transform="translate(1063.59 2681.2) scale(1.04 0.965)">0</text>
<g transform="translate(1437.41 2681.20) scale(1.1671 0.9593)"><text clip-path="url(#c1r)" font-size="64">1</text></g>
<text transform="translate(1472.29 2681.2) scale(1.04 0.965)">0</text>
<text transform="translate(1506.69 2681.2) scale(1.04 0.965)">0</text>
<g transform="translate(1844.91 2681.20) scale(1.1671 0.9593)"><text clip-path="url(#c1r)" font-size="64">1</text></g>
<text transform="translate(1879.79 2681.2) scale(1.04 0.965)">0</text>
<text transform="translate(1914.19 2681.2) scale(1.04 0.965)">0</text>
<text transform="translate(1948.59 2681.2) scale(1.04 0.965)">0</text>
</g>
<g id="xtitle">
<text transform="translate(633.75 2779.20) scale(1.0215 1.0450)" font-size="86">Particle Diameter</text>
<text transform="translate(1334.26 2777.41) scale(0.7875 0.9825)" font-size="86">(</text>
<text class="ser" transform="translate(1360.70 2778.33) scale(1.1500 0.9509)" font-size="80">μ</text>
<text transform="translate(1409.36 2779.20) scale(0.9885 1.0450)" font-size="86">m</text>
<text transform="translate(1487.40 2777.41) scale(0.7917 0.9825)" font-size="86">)</text>
</g>
<g id="ytitle" transform="translate(104.6 1925.6) rotate(-90)">
<text transform="translate(-6.99 0) scale(0.9981 1.04)" font-size="87">Normalized Particle Amount (Diff</text>
<text transform="translate(1256.40 -0.33) scale(0.8417 0.9852)" font-size="87">)</text>
</g>
<g id="ytitle2" transform="translate(102.6 258.3) rotate(-90)">
<text transform="translate(-2.19 -0.97) scale(0.9649 0.9750)" font-size="80">q</text>
<text transform="translate(45.24 31.60) scale(0.8640 1.0000)" font-size="49">3</text>
<text transform="translate(92.63 -0.89) scale(0.7913 0.9760)" font-size="80">(</text>
<text transform="translate(119.27 0.40) scale(0.9164 1.0750)" font-size="80">%</text>
<text transform="translate(194.10 -0.89) scale(0.7773 0.9760)" font-size="80">)</text>
</g>
</svg>
</body></html>
